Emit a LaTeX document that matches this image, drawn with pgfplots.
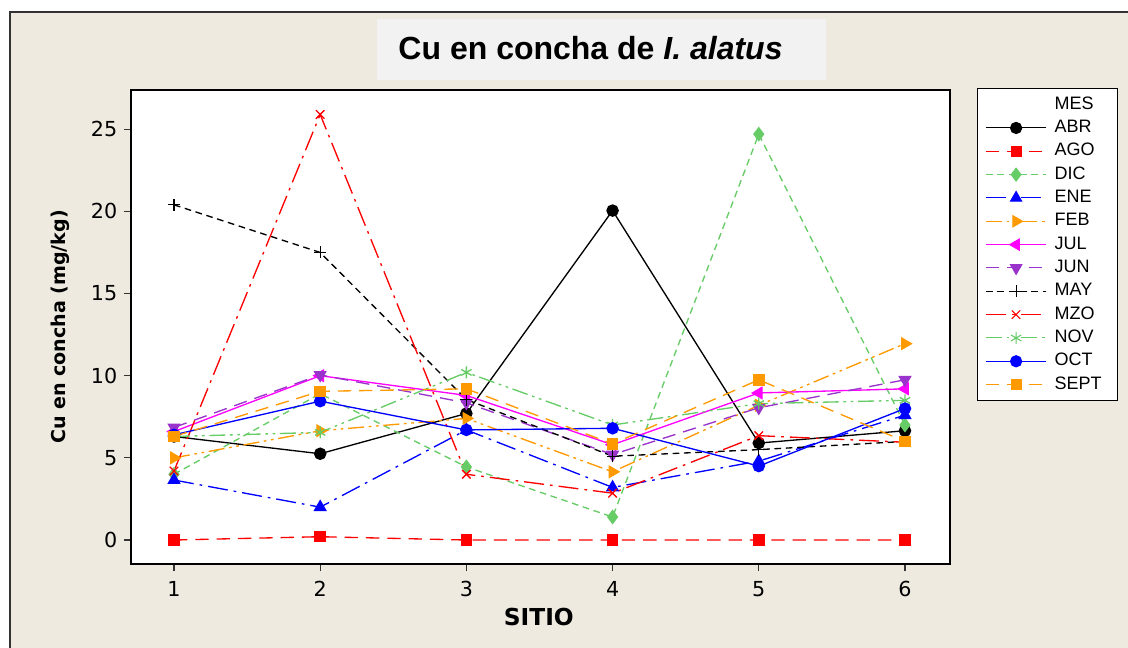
\documentclass[border=0pt]{standalone}
\usepackage{pgfplots}
\pgfplotsset{compat=1.18}
\usepackage{fontspec}
\setmainfont{DejaVu Sans}
\newfontfamily\lib{Liberation Sans}

\definecolor{panel}{RGB}{238,234,224}
\definecolor{titlebox}{RGB}{242,242,242}
\definecolor{mgreen}{RGB}{102,204,102}
\definecolor{morange}{RGB}{255,153,0}
\definecolor{mpurple}{RGB}{153,51,204}
\definecolor{mmagenta}{RGB}{255,0,255}
\definecolor{mblue}{RGB}{0,0,255}
\definecolor{mred}{RGB}{255,0,0}

% line types
\tikzset{
  lt dash/.style={dash pattern=on 10pt off 6pt},
  lt short/.style={dash pattern=on 5pt off 3.5pt},
  lt dashdot/.style={dash pattern=on 15pt off 4.5pt on 2pt off 4.5pt},
  lt dashdotdot/.style={dash pattern=on 12pt off 3.5pt on 2pt off 3.5pt on 2pt off 3.5pt},
}
\newcommand\legtxt[1]{\makebox[41pt][l]{#1}}

\begin{document}
\begin{tikzpicture}
% page and frame
\useasboundingbox (0,0) rectangle (846pt,486pt);
\fill[white] (0,0) rectangle (846pt,486pt);
\fill[panel] (7.5pt,0) rectangle (846pt,477pt);
\draw[black!80,line width=1pt] (7.5pt,0) -- (7.5pt,477pt) -- (846pt,477pt);
% title
\fill[titlebox] (282.75pt,426pt) rectangle (619.5pt,471.75pt);
\node[anchor=base,inner sep=0pt,font=\lib\fontsize{24pt}{28pt}\selectfont\bfseries] at (442.9pt,441pt) {Cu en concha de \textit{I. alatus}};

\begin{axis}[
  at={(98.25pt,63pt)}, anchor=south west,
  scale only axis, width=614.25pt, height=355.5pt,
  xmin=0.706, xmax=6.308, ymin=-1.46, ymax=27.39,
  axis background/.style={fill=white},
  axis line style={black, line width=0.9pt},
  xtick={1,2,3,4,5,6}, ytick={0,5,10,15,20,25},
  tick align=outside, xtick pos=left, ytick pos=left,
  major tick length=5.5pt,
  tick style={black!80, line width=0.9pt},
  /pgf/number format/assume math mode=true,
  ticklabel style={font=\fontsize{15.5pt}{18pt}\selectfont},
  xticklabel style={yshift=-3.5pt},
  yticklabel style={xshift=-1pt},
  xlabel={SITIO},
  ylabel={Cu en concha (mg/kg)},
  xlabel style={font=\fontsize{17.5pt}{20pt}\selectfont\bfseries, at={(axis description cs:0.498,-0.112)}, anchor=center},
  ylabel style={font=\fontsize{14.3pt}{17pt}\selectfont\bfseries, at={(axis description cs:-0.0867,0.5)}, anchor=center},
  line width=1pt,
  legend style={
    at={(rel axis cs:1.033,1.004)}, anchor=north west,
    draw=black, line width=0.8pt, fill=white,
    font=\lib\fontsize{13.5pt}{16pt}\selectfont,
    inner xsep=6pt, inner ysep=5.5pt,
    row sep=4.5pt, column sep=0pt,
    nodes={inner sep=0pt, text height=10pt, text depth=3pt},
  },
  legend cell align=left,
  legend image code/.code={
    \draw[mark repeat=2,mark phase=2] plot coordinates {(0pt,0pt) (22.5pt,0pt) (45pt,0pt)};
    \path (51pt,0pt);
  },
]
\addlegendimage{empty legend}
\addlegendentry{\legtxt{MES}}

\addplot[black, mark=*, mark size=4.2pt, mark options={solid}]
  coordinates {(1,6.3) (2,5.25) (3,7.7) (4,20.05) (5,5.9) (6,6.65)};
\addlegendentry{\legtxt{ABR}}

\addplot[mred, lt dash, mark=square*, mark size=3.8pt, mark options={solid}]
  coordinates {(1,0) (2,0.2) (3,0) (4,0) (5,0) (6,0)};
\addlegendentry{\legtxt{AGO}}

\addplot[mgreen, lt short, mark=diamond*, mark size=4.8pt, mark options={solid}]
  coordinates {(1,4.0) (2,8.9) (3,4.45) (4,1.4) (5,24.7) (6,7.0)};
\addlegendentry{\legtxt{DIC}}

\addplot[mblue, lt dashdot, mark=triangle*, mark size=4.8pt, mark options={solid}]
  coordinates {(1,3.65) (2,2.0) (3,6.7) (4,3.2) (5,4.8) (6,7.6)};
\addlegendentry{\legtxt{ENE}}

\addplot[morange, lt dashdotdot, mark=triangle*, mark size=4.8pt, mark options={solid, rotate=-90}]
  coordinates {(1,5.0) (2,6.65) (3,7.4) (4,4.15) (5,8.2) (6,11.95)};
\addlegendentry{\legtxt{FEB}}

\addplot[mmagenta, mark=triangle*, mark size=4.8pt, mark options={solid, rotate=90}]
  coordinates {(1,6.6) (2,10.0) (3,8.8) (4,5.8) (5,8.95) (6,9.2)};
\addlegendentry{\legtxt{JUL}}

\addplot[mpurple, lt dash, mark=triangle*, mark size=4.8pt, mark options={solid, rotate=180}]
  coordinates {(1,6.85) (2,10.05) (3,8.35) (4,5.2) (5,8.05) (6,9.75)};
\addlegendentry{\legtxt{JUN}}

\addplot[black, lt short, mark=+, mark size=4.5pt, mark options={solid}]
  coordinates {(1,20.4) (2,17.5) (3,8.55) (4,5.1) (5,5.5) (6,6.0)};
\addlegendentry{\legtxt{MAY}}

\addplot[mred, lt dashdot, mark=x, mark size=4.5pt, mark options={solid}]
  coordinates {(1,4.2) (2,25.9) (3,4.0) (4,2.85) (5,6.35) (6,5.95)};
\addlegendentry{\legtxt{MZO}}

\addplot[mgreen, lt dashdotdot, mark=asterisk, mark size=4.5pt, mark options={solid}]
  coordinates {(1,6.3) (2,6.55) (3,10.2) (4,7.0) (5,8.3) (6,8.5)};
\addlegendentry{\legtxt{NOV}}

\addplot[mblue, mark=*, mark size=4.2pt, mark options={solid}]
  coordinates {(1,6.4) (2,8.45) (3,6.7) (4,6.8) (5,4.5) (6,8.0)};
\addlegendentry{\legtxt{OCT}}

\addplot[morange, lt dash, mark=square*, mark size=3.8pt, mark options={solid}]
  coordinates {(1,6.3) (2,9.05) (3,9.2) (4,5.85) (5,9.75) (6,6.0)};
\addlegendentry{\legtxt{SEPT}}
\end{axis}
\end{tikzpicture}
\end{document}
